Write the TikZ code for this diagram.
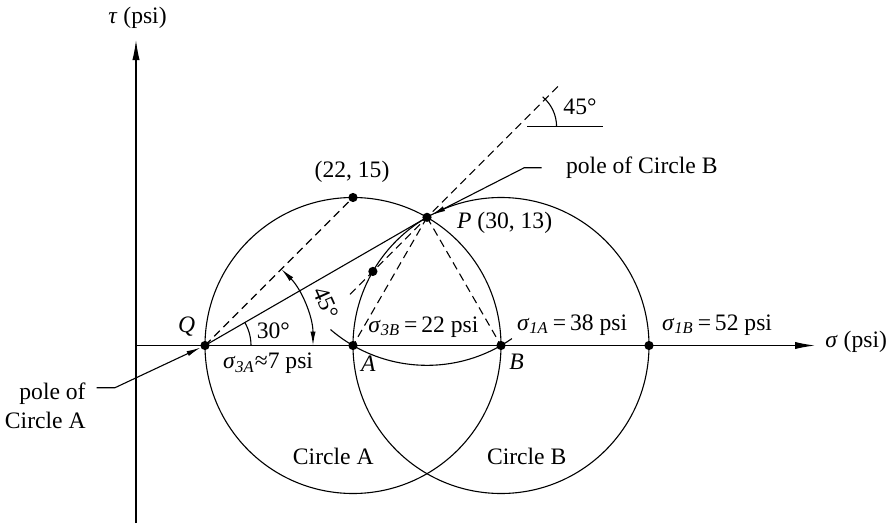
\documentclass[tikz,border=0pt]{standalone}
\usepackage{fontspec}
\setmainfont{Liberation Serif}
\usetikzlibrary{arrows.meta}
\newcommand{\sg}[1]{\textit{σ}\textsubscript{\textit{#1}}}
\begin{document}
\begin{tikzpicture}[x=0.5pt,y=0.5pt,
  every node/.style={inner sep=0pt, font=\fontsize{11.8}{14.2}\selectfont},
  ln/.style={line width=0.55pt},
  dsh/.style={line width=0.55pt, dash pattern=on 4pt off 2.5pt},
  pdot/.style={circle, fill=black, minimum size=4.6pt, inner sep=0pt},
  axarrow/.style={-{Latex[length=10pt,width=3.6pt]}},
  ldarrow/.style={-{Latex[length=7pt,width=2.6pt]}},
  dblarrow/.style={{Latex[length=7pt,width=2.6pt]}-{Latex[length=7pt,width=2.6pt]}},
]
\useasboundingbox (0,0) rectangle (891,527);

% key coordinates
\coordinate (O)  at (136,181.5);
\coordinate (Yb) at (136,4);
\coordinate (Yt) at (136,487);
\coordinate (Xt) at (815,181.5);
\coordinate (Qc) at (205,181.5);
\coordinate (Ac) at (353,181.5);
\coordinate (Bc) at (501,181.5);
\coordinate (Sc) at (649,181.5);
\coordinate (Tc) at (353,329.5);
\coordinate (Pc) at (427,309.67);
\coordinate (Dc) at (372.9,255.57);
\coordinate (L1) at (350,232.67);
\coordinate (L2) at (560,442.67);
\coordinate (Hc) at (517.6,400.3);
\coordinate (H1) at (527,400.3);
\coordinate (H2) at (603,400.3);
\coordinate (pbA) at (541.7,359.3);
\coordinate (pbB) at (524.3,359.3);
\coordinate (paA) at (96.7,139.3);
\coordinate (paB) at (115,139.3);

% axes
\draw[ln,axarrow] (Yb) -- (Yt);
\draw[ln,axarrow] (O) -- (Xt);

% circles
\draw[ln] (Ac) circle[radius=148];
\draw[ln] (Bc) circle[radius=148];

% arc centred at P through A and B
\draw[ln] ([shift={(229.3:148)}]Pc) arc[start angle=229.3, end angle=305, radius=148];

% dots
\node[pdot] (Q) at (Qc) {};
\node[pdot] (A) at (Ac) {};
\node[pdot] (B) at (Bc) {};
\node[pdot] (S) at (Sc) {};
\node[pdot] (T) at (Tc) {};
\node[pdot] (P) at (Pc) {};
\node[pdot] (D) at (Dc) {};

% lines
\draw[dsh] (Qc) -- (T);
\draw[dsh] (L1) -- (L2);
\draw[dsh] (Pc) -- (Ac);
\draw[dsh] (Pc) -- (Bc);
\draw[ln] (Qc) -- (Pc);

% angle marks
\draw[ln] ([shift={(0:46)}]Qc) arc[start angle=0, end angle=30, radius=46];
\draw[ln,dblarrow] ([shift={(0:108)}]Qc) arc[start angle=0, end angle=45, radius=108];
\draw[ln] (H1) -- (H2);
\draw[ln] ([shift={(0:39)}]Hc) arc[start angle=0, end angle=50, radius=39];

% leaders
\draw[ln,ldarrow] (pbA) -- (pbB) -- (P);
\draw[ln,ldarrow] (paA) -- (paB) -- (Q);

% labels
\node (tauL) at (137.5,508.7) {\textit{τ} (psi)};
\node[anchor=west] (sigL) at (825,185.3) {\textit{σ} (psi)};
\node (QL) at (186.7,200.3) {\textit{Q}};
\node (a30) at (273.3,196.3) {30°};
\node[rotate=-66] (a45) at (326,224) {45°};
\node (a45t) at (580,420.3) {45°};
\node (s3A) at (268,163.7) {\sg{3A}≈7 psi};
\node (AL) at (368.3,163.7) {\textit{A}};
\node (BL) at (516.7,165.3) {\textit{B}};
\node[anchor=west] (s3B) at (368,200.3) {\sg{3B}\,=\,22 psi};
\node[anchor=west] (s1A) at (516.7,202) {\sg{1A}\,=\,38 psi};
\node[anchor=west] (s1B) at (661.7,202) {\sg{1B}\,=\,52 psi};
\node[anchor=west] (PL) at (456.7,303.7) {\textit{P} (30, 13)};
\node (TL) at (352,355.3) {(22, 15)};
\node[anchor=west] (poleB) at (565.7,359.3) {pole of Circle B};
\node[anchor=east, align=right, font=\fontsize{11.8}{14.3}\selectfont] (poleA) at (86,121.2) {pole of\\Circle A};
\node (cA) at (333.3,70.3) {Circle A};
\node (cB) at (526.7,70.3) {Circle B};
\end{tikzpicture}
\end{document}
